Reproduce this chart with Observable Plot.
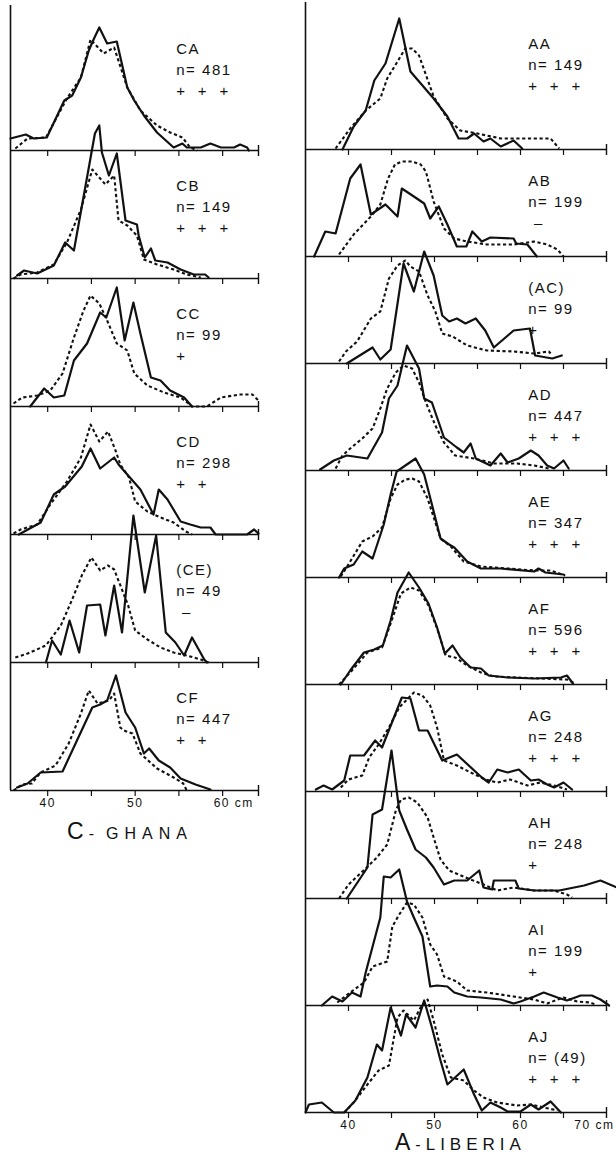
<!DOCTYPE html>
<html>
<head>
<meta charset="utf-8">
<script src="https://cdn.jsdelivr.net/npm/d3@7"></script>
<script src="https://cdn.jsdelivr.net/npm/@observablehq/plot@0.6"></script>
<style>
  body { margin: 0; background: #fff; }
  #wrap { position: relative; width: 616px; height: 1164px; font-family: "Liberation Sans", Arial, sans-serif; color: #111; overflow: hidden; }
  #left { position: absolute; left: 0; top: 0; width: 270px; }
  #right { position: absolute; left: 300px; top: 0; width: 316px; }
  .title { position: absolute; white-space: nowrap; line-height: 23px; display: flex; align-items: baseline; color: #111; }
  .big { font-size: 23px; }
  .dash { font-size: 16px; margin-left: 5px; }
</style>
</head>
<body>
<div id="wrap">
  <div id="left"></div>
  <div id="right"></div>
  <div class="title" style="left:67px; top:820px;"><span class="big">C</span><span class="dash">-</span><span style="font-size:16px; margin-left:12px; letter-spacing:6px;">GHANA</span></div>
  <div class="title" style="left:395px; top:1131px;"><span class="big">A</span><span class="dash">-</span><span style="font-size:17px; margin-left:5px; letter-spacing:5px;">LIBERIA</span></div>
</div>
<script>
// ---------- C - GHANA (frequency %, by length in cm) ----------
const ghanaNames = ["CA", "CB", "CC", "CD", "(CE)", "CF"];
const ghanaN = ["n= 481", "n= 149", "n= 99", "n= 298", "n= 49", "n= 447"];
const ghanaSig = ["+++", "+++", "+", "++", "-", "++"];
const ghanaTicks = [40, 45, 50, 55, 60];
const ghanaTickLabels = [40, 50];
const ghanaUnitLabel = 60;

const caSolid = [[35.75,1.2],[37.5,1.6],[38.4,1.2],[39.9,1.3],[41.9,5.0],[42.8,5.5],[43.8,7.3],[44.7,10.0],[45.3,11.2],[45.9,12.3],[46.8,10.7],[47.9,10.9],[49.1,6.3],[49.9,5.0],[51.0,3.5],[52.5,1.8],[54.4,0.3],[55.4,0.7],[55.9,0.3],[57.5,0.3],[58.6,0.7],[59.8,0.3],[61.3,0.3],[62.0,0.6],[62.8,0.3],[63.0,0]];
const caDashed = [[36.3,0.2],[37.7,1.2],[39.8,1.3],[42.2,5.2],[43.8,7.3],[44.9,11.1],[46.4,9.7],[47.6,10.3],[49.1,6.3],[50.6,4.0],[52.5,2.5],[54.0,1.8],[55.4,1.3],[56.3,0.3],[57.1,0]];
const cbSolid = [[36.5,0.3],[37.3,0.8],[38.8,0.5],[40.7,1.3],[42.0,3.6],[43.0,2.8],[45.4,14.5],[45.9,15.3],[46.2,12.6],[47.0,10.3],[47.9,12.5],[48.9,5.8],[50.2,5.4],[50.4,4.3],[51.1,2.1],[51.8,3.0],[52.3,1.8],[53.7,1.6],[55.2,0.9],[56.7,0.4],[58.0,0.4],[58.4,0.1]];
const cbDashed = [[36.1,0],[36.9,0.4],[38.8,0.6],[40.7,1.4],[42.2,3.6],[43.8,6.9],[45.1,10.9],[46.6,9.4],[47.6,10.3],[48.1,5.8],[49.1,5.3],[50.2,4.3],[51.0,1.9],[52.5,1.4],[54.4,0.9],[55.9,0.4],[57.5,0.1]];
const ccSolid = [[38.0,0],[39.6,1.8],[40.7,0.9],[41.9,1.1],[43.0,4.6],[44.5,6.3],[46.0,9.4],[46.7,8.9],[47.9,11.9],[48.8,6.6],[49.8,10.4],[50.6,7.3],[51.8,2.9],[52.9,2.6],[54.0,1.6],[55.6,0.9],[56.5,0]];
const ccDashed = [[36.1,0.3],[37.1,0.9],[38.8,1.1],[40.3,1.6],[41.7,3.3],[43.0,6.9],[44.1,9.6],[44.9,11.1],[45.9,10.3],[46.8,8.6],[47.9,6.3],[49.1,5.6],[49.9,3.3],[51.4,2.1],[53.3,1.4],[55.2,0.9],[56.1,0.3],[56.5,0],[58.2,0],[59.8,0.9],[62.0,1.2],[63.4,1.2],[64.1,0.6]];
const cdSolid = [[36.7,0],[39.2,1.2],[40.7,4.0],[42.0,4.8],[43.9,6.8],[44.9,8.6],[46.0,6.6],[47.6,7.7],[48.1,7.0],[49.3,5.8],[50.6,4.5],[52.1,2.0],[52.7,4.5],[53.7,3.5],[55.2,1.3],[56.3,1.0],[57.5,0.7],[58.6,0.7],[59.2,0],[62.8,0],[63.6,0.5],[64.1,0.1]];
const cdDashed = [[36.1,0.1],[36.9,0.5],[38.8,1.0],[40.3,3.0],[42.2,5.3],[43.8,7.7],[44.9,11.0],[45.9,9.3],[46.9,10.3],[47.8,8.3],[48.3,7.0],[49.3,5.7],[50.0,3.3],[51.4,2.3],[52.9,1.7],[54.4,1.2],[55.8,0.3],[56.5,0]];
const ceSolid = [[39.8,0],[40.5,2.2],[41.5,0.8],[42.5,4.2],[43.6,1.0],[44.5,5.7],[46.0,5.8],[46.6,2.7],[47.6,7.7],[48.5,3.0],[49.8,14.7],[51.1,7.0],[52.4,12.7],[53.5,3.0],[54.6,2.0],[55.6,0.7],[56.5,2.5],[57.9,0.3],[58.2,0]];
const ceDashed = [[36.3,0.5],[37.7,0.9],[39.8,1.7],[41.5,3.7],[42.8,6.3],[43.9,8.7],[45.0,10.5],[46.0,9.2],[46.9,9.7],[47.6,9.3],[49.2,5.7],[50.0,3.2],[51.4,2.3],[52.9,1.5],[54.4,1.0],[55.9,0.7],[57.5,0.3],[58.4,0]];
const cfSolid = [[36.5,0.3],[37.7,0.7],[39.2,1.8],[41.7,1.9],[45.1,8.3],[46.0,8.6],[46.8,9.0],[47.8,11.5],[48.9,7.8],[50.0,6.3],[51.0,3.7],[51.6,4.2],[52.7,3.0],[54.0,2.3],[55.2,1.2],[56.9,0.6],[58.6,0.1]];
const cfDashed = [[36.1,0],[37.1,0.6],[38.2,0.7],[39.2,1.8],[40.9,2.5],[42.4,4.7],[43.8,7.7],[44.7,10.0],[45.7,8.7],[47.0,9.0],[47.6,9.7],[48.3,6.3],[48.7,6.0],[49.7,5.7],[50.6,3.7],[52.5,2.2],[54.4,1.3],[55.5,0.7],[55.9,0]];

// ---------- A - LIBERIA ----------
const liberiaNames = ["AA", "AB", "(AC)", "AD", "AE", "AF", "AG", "AH", "AI", "AJ"];
const liberiaN = ["n= 149", "n= 199", "n= 99", "n= 447", "n= 347", "n= 596", "n= 248", "n= 248", "n= 199", "n= (49)"];
const liberiaSig = ["+++", "-", "+", "+++", "+++", "+++", "+++", "+", "+", "+++"];
const liberiaTicks = [40, 45, 50, 55, 60, 65];
const liberiaTickLabels = [40, 50, 60];
const liberiaUnitLabel = 70;

const aaSolid = [[39.3,0],[40.6,2.3],[42.0,3.9],[43.0,6.9],[44.3,8.6],[45.9,13.1],[47.2,7.8],[49.9,5.1],[51.5,3.3],[52.8,1.1],[53.8,1.1],[54.6,1.6],[55.7,0.8],[56.5,1.1],[57.7,0.3],[59.2,0.9],[60.2,0.1]];
const aaDashed = [[38.5,0.1],[40.2,2.1],[42.0,3.9],[43.7,5.1],[44.5,7.1],[45.7,8.8],[46.6,10.1],[47.4,10.1],[48.2,9.4],[49.9,5.3],[51.5,3.1],[53.0,1.9],[55.0,1.6],[57.7,1.1],[61.6,1.1],[63.5,1.1],[64.5,0.1]];
const abSolid = [[36.0,0],[37.3,2.5],[38.5,2.3],[40.2,7.8],[41.4,9.2],[42.6,4.2],[44.3,5.2],[45.7,4.0],[46.2,6.8],[47.6,6.0],[48.8,5.3],[49.5,3.8],[50.5,5.0],[51.5,3.2],[52.6,1.0],[53.7,1.0],[54.4,2.5],[55.5,1.5],[56.5,1.9],[59.2,1.8],[59.5,1.3],[60.8,1.2],[61.9,0]];
const abDashed = [[38.9,0.2],[40.6,2.2],[42.6,4.0],[43.7,5.2],[44.6,7.8],[45.4,9.2],[46.2,9.5],[47.4,9.5],[48.4,9.2],[49.0,8.5],[49.9,5.5],[51.1,2.8],[52.3,1.8],[53.8,1.5],[56.1,1.2],[59.2,1.2],[61.6,1.5],[63.1,1.2],[64.3,0.7],[65.0,0]];
const acSolid = [[39.8,0],[42.8,1.6],[43.7,0.4],[44.9,1.4],[46.4,10.0],[47.6,7.2],[48.8,11.2],[49.9,8.8],[50.9,4.8],[51.7,4.2],[52.6,4.5],[53.6,4.0],[54.8,4.5],[55.9,3.3],[56.9,1.6],[59.2,3.3],[61.1,3.5],[61.7,0.8],[63.7,0.5],[64.8,0.8]];
const acDashed = [[38.9,0.2],[39.7,1.2],[41.0,2.2],[42.6,4.5],[43.7,5.2],[44.7,8.5],[45.7,9.8],[46.6,10.3],[47.2,9.7],[48.2,9.2],[49.2,6.8],[50.1,5.2],[50.9,3.0],[52.1,2.7],[53.8,1.8],[56.1,1.3],[59.2,1.2],[61.6,1.0],[63.3,1.2],[63.5,1.0]];
const adSolid = [[36.7,0.1],[38.3,1.0],[39.8,1.5],[42.2,1.2],[43.9,3.8],[44.7,7.2],[45.7,8.5],[46.8,12.5],[48.2,10.2],[48.8,7.2],[49.7,6.8],[51.1,3.3],[52.6,2.3],[53.4,1.8],[54.2,2.7],[54.8,1.2],[56.5,0.5],[57.7,1.7],[58.5,0.8],[59.8,1.2],[61.2,2.0],[62.1,1.5],[63.1,0.5],[63.9,0.2],[65.0,1.0],[65.6,0.2]];
const adDashed = [[38.5,0.2],[39.3,1.5],[40.2,2.2],[41.6,3.2],[42.8,4.2],[43.7,6.2],[44.5,8.2],[45.5,9.8],[46.4,10.5],[47.4,10.2],[48.2,8.8],[49.0,6.8],[50.1,4.5],[51.1,2.8],[52.4,1.5],[54.6,1.2],[56.9,0.7],[59.6,0.7],[61.6,0.5],[63.3,0.2]];
const aeSolid = [[38.9,0],[39.5,0.9],[40.6,1.3],[41.6,2.6],[42.8,1.9],[44.1,5.3],[44.9,8.3],[45.6,10.6],[47.8,11.9],[48.8,10.3],[49.7,7.3],[50.7,3.9],[51.7,3.3],[52.3,3.0],[53.8,1.6],[55.4,0.9],[57.7,0.9],[61.6,0.6],[62.1,0.9],[62.9,0.5],[65.0,0.3]];
const aeDashed = [[39.1,0.1],[40.2,1.6],[41.6,3.6],[42.8,4.1],[43.9,5.0],[44.9,7.9],[45.7,9.3],[46.6,9.8],[47.4,9.9],[48.2,9.6],[49.2,7.9],[50.7,3.9],[51.9,3.1],[53.4,1.6],[55.4,1.1],[58.5,0.9],[61.6,0.7],[63.5,0.7],[65.2,0.2]];
const afSolid = [[39.1,0],[40.2,1.4],[41.8,3.2],[43.0,3.5],[44.0,3.9],[44.9,6.4],[45.7,9.2],[47.0,11.2],[48.2,9.7],[49.3,8.1],[50.3,5.7],[51.2,3.1],[52.1,3.9],[53.0,2.7],[54.2,1.7],[55.4,1.6],[56.3,0.9],[58.5,0.7],[61.6,0.6],[64.7,0.7],[65.4,0.9],[66.1,0.1]];
const afDashed = [[38.9,0],[40.4,1.4],[42.2,3.2],[43.9,3.7],[44.9,6.1],[46.1,9.1],[47.2,9.7],[48.2,9.4],[49.3,7.9],[50.3,5.6],[51.3,2.9],[52.4,2.7],[53.8,1.9],[55.4,1.2],[56.9,0.8],[59.6,0.7],[62.3,0.6],[65.4,0.5],[66.4,0.1]];
const agSolid = [[36.2,0.2],[37.1,0.6],[38.1,0.2],[39.5,1.1],[40.2,3.6],[41.8,3.6],[43.1,5.1],[43.9,4.4],[46.2,9.4],[47.2,9.3],[48.2,6.1],[49.2,6.1],[50.9,3.1],[52.6,3.7],[55.5,1.4],[56.3,0.9],[57.3,2.2],[58.5,1.9],[59.8,2.2],[61.2,1.1],[62.1,1.2],[63.1,0.7],[63.9,0.4],[65.0,0.9],[66.0,0.2]];
const agDashed = [[39.1,0.4],[40.0,1.2],[41.6,1.6],[42.4,3.4],[43.5,4.7],[44.7,6.4],[45.9,8.4],[46.8,9.2],[47.6,9.9],[48.6,9.6],[49.5,8.6],[50.3,6.4],[51.1,3.1],[52.6,2.6],[54.2,1.9],[55.9,1.2],[57.3,0.9],[58.8,1.2],[60.8,0.6],[62.3,0.9],[63.9,0.6],[65.4,0.2]];
const ahSolid = [[39.8,0],[42.2,3.1],[42.8,8.4],[43.9,8.9],[45.0,14.8],[45.9,8.8],[46.8,6.9],[47.8,4.9],[49.0,4.1],[49.9,3.1],[51.1,1.4],[52.3,1.8],[53.8,1.8],[55.2,2.8],[55.7,1.1],[56.7,0.9],[56.9,1.8],[59.4,1.8],[59.8,1.0],[61.6,0.8],[64.5,0.8],[67.4,1.3],[69.3,1.8],[71.2,1.1]];
const ahDashed = [[38.9,0],[40.0,1.4],[42.0,3.0],[43.3,4.1],[44.5,5.4],[45.5,8.8],[46.1,9.9],[47.0,10.1],[48.0,9.6],[49.2,8.1],[49.9,6.1],[50.7,3.9],[51.7,2.8],[53.6,2.1],[55.7,1.4],[57.3,0.8],[59.2,1.1],[61.6,0.8],[63.9,0.8],[65.4,0.4],[66.0,0.1]];
const aiSolid = [[36.9,0],[38.1,0.9],[39.3,0.4],[40.4,1.3],[41.4,0.9],[42.0,3.3],[43.7,8.8],[44.1,12.9],[44.9,12.8],[45.9,13.6],[46.8,10.4],[47.6,8.8],[48.6,6.9],[49.5,1.9],[50.3,2.0],[51.5,1.9],[52.3,1.3],[53.8,0.9],[55.4,0.8],[57.7,0.6],[59.2,0.2],[60.0,0.4],[61.6,0.9],[62.7,1.3],[64.3,0.8],[65.4,0.5],[67.0,1.0],[68.3,1.0],[69.3,0.6],[70.3,0]];
const aiDashed = [[38.7,0.3],[40.2,1.3],[41.8,2.3],[42.8,3.9],[44.5,4.4],[45.1,7.9],[45.9,9.1],[46.8,10.3],[47.6,10.1],[48.6,8.8],[49.5,6.1],[50.3,5.1],[51.1,2.9],[52.6,2.4],[53.8,1.5],[56.1,1.3],[59.2,0.9],[61.6,0.6],[63.1,0.2],[65.0,0.8],[66.6,0.4],[68.1,0.3],[68.7,0.1]];
const ajSolid = [[35.0,0],[35.4,0.8],[36.9,1.0],[38.3,0],[39.5,0],[40.8,1.2],[42.2,3.5],[43.3,6.8],[43.9,6.2],[44.9,10.5],[46.1,7.7],[46.7,9.8],[47.8,8.5],[48.8,11.2],[49.7,8.5],[50.7,5.2],[51.5,2.8],[53.4,4.3],[54.6,1.8],[55.5,0.2],[56.5,1.0],[57.7,0.5],[58.5,0.1],[60.0,0.1],[61.2,0.8],[62.1,0.3],[63.5,1.1],[64.7,0]];
const ajDashed = [[39.5,0],[40.6,1.0],[42.2,2.8],[43.5,4.2],[44.7,4.7],[45.7,9.5],[46.4,10.2],[47.6,9.2],[48.5,10.7],[49.2,11.3],[49.9,9.2],[50.9,5.8],[51.9,3.5],[53.4,3.2],[54.6,2.2],[55.7,1.5],[57.3,1.0],[59.6,0.7],[61.2,0.8],[62.7,0.5],[64.3,0.2]];

const INK = "#111";

function sigText(s) {
  return s === "-" ? "\u00a0\u2013" : s.split("").join("\u00a0\u00a0");
}

function column(cfg) {
  const N = cfg.names.length;
  const base = i => (N - 1 - i) * cfg.step;
  const bases = cfg.names.map((_, i) => base(i));
  const toRows = series => cfg.names.flatMap((name, i) => series[i].map(([x, v]) => ({name, x, y: base(i) + v})));
  const tickRows = bases.flatMap(b => cfg.ticks.map(x => ({x, b})));
  const endRows = bases.map(b => ({x: cfg.xDomain[1], b}));
  const labels = cfg.names.map((name, i) => ({
    text: `${name}\n${cfg.ns[i]}\n${sigText(cfg.sigs[i])}`,
    y: base(i) + (i === 0 ? cfg.topLabelOffset : cfg.labelOffset)
  }));
  return Plot.plot({
    width: cfg.width,
    height: cfg.height,
    marginLeft: cfg.marginLeft,
    marginRight: cfg.marginRight,
    marginTop: cfg.marginTop,
    marginBottom: cfg.marginBottom,
    style: "font-family: 'Liberation Sans', Arial, sans-serif; letter-spacing: 1.5px; background: #fff; color: #111;",
    x: {domain: cfg.xDomain, axis: null},
    y: {domain: [0, cfg.yTop], axis: null},
    marks: [
      Plot.ruleY(bases, {stroke: INK, strokeWidth: 1.4}),
      Plot.ruleX([cfg.xDomain[0]], {stroke: INK, strokeWidth: 1.6}),
      Plot.ruleX(tickRows, {x: "x", y1: "b", y2: d => d.b - 0.6, stroke: INK, strokeWidth: 1.2}),
      Plot.ruleX(endRows, {x: "x", y1: d => d.b + 0.5, y2: d => d.b - 0.6, stroke: INK, strokeWidth: 1.4}),
      Plot.line(toRows(cfg.dashed), {x: "x", y: "y", z: "name", stroke: INK, strokeWidth: 2.1, strokeDasharray: "3.2,2.6", strokeLinecap: "butt"}),
      Plot.line(toRows(cfg.solid), {x: "x", y: "y", z: "name", stroke: INK, strokeWidth: 2.2}),
      Plot.text(labels, {x: () => cfg.labelX, y: "y", text: "text", textAnchor: "start", lineAnchor: "top", lineHeight: 1.4, fontSize: 15, fill: INK}),
      Plot.text(cfg.tickLabels, {x: d => d, y: () => 0, dy: 13, text: d => `${d}`, fontSize: 12, fill: INK}),
      Plot.text([cfg.unitLabel], {x: d => d, y: () => 0, dy: 13, dx: cfg.unitDx, text: d => `${d} cm`, textAnchor: cfg.unitAnchor, fontSize: 12, fill: INK})
    ]
  });
}

document.getElementById("left").append(column({
  names: ghanaNames, ns: ghanaN, sigs: ghanaSig,
  solid: [caSolid, cbSolid, ccSolid, cdSolid, ceSolid, cfSolid],
  dashed: [caDashed, cbDashed, ccDashed, cdDashed, ceDashed, cfDashed],
  step: 12.8, yTop: 78.5, xDomain: [35.75, 64.1],
  width: 270, height: 815, marginLeft: 10, marginRight: 12, marginTop: 5, marginBottom: 25,
  ticks: ghanaTicks, tickLabels: ghanaTickLabels, unitLabel: ghanaUnitLabel, unitAnchor: "start", unitDx: -9,
  labelX: 54.7, labelOffset: 10.2, topLabelOffset: 11.1
}));

document.getElementById("right").append(column({
  names: liberiaNames, ns: liberiaN, sigs: liberiaSig,
  solid: [aaSolid, abSolid, acSolid, adSolid, aeSolid, afSolid, agSolid, ahSolid, aiSolid, ajSolid],
  dashed: [aaDashed, abDashed, acDashed, adDashed, aeDashed, afDashed, agDashed, ahDashed, aiDashed, ajDashed],
  step: 10.7, yTop: 111, xDomain: [35, 70],
  width: 316, height: 1134, marginLeft: 5, marginRight: 10, marginTop: 2, marginBottom: 22,
  ticks: liberiaTicks, tickLabels: liberiaTickLabels, unitLabel: liberiaUnitLabel, unitAnchor: "end", unitDx: 8,
  labelX: 60.9, labelOffset: 8.5, topLabelOffset: 11.5
}));
</script>
</body>
</html>
